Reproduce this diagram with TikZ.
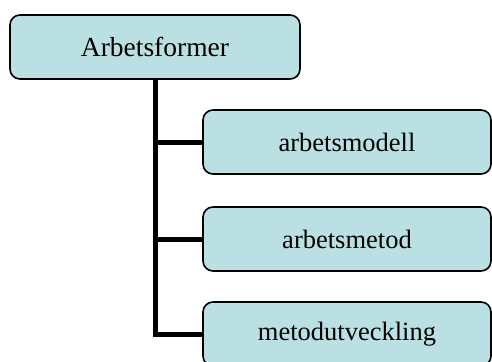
\documentclass[tikz,border=0pt]{standalone}
\usepackage{fontspec}
\setmainfont{Liberation Serif}
\definecolor{boxfill}{RGB}{187,224,227}
\begin{document}
\begin{tikzpicture}[x=1pt,y=1pt]
\tikzstyle{box}=[draw=black, line width=1.6pt, fill=boxfill, rounded corners=10pt, inner sep=0pt]
\tikzstyle{top box}=[box, minimum width=290pt, minimum height=64pt, font=\fontsize{27.5}{30}\selectfont]
\tikzstyle{sub box}=[box, minimum width=288pt, minimum height=64pt, font=\fontsize{26.5}{29}\selectfont]
\tikzstyle{link}=[line width=5pt]
\useasboundingbox (0,0) rectangle (492,-361);
\clip (0,0) rectangle (492,-361);

\node[top box] (forms) at (155,-47) {Arbetsformer};
\node[sub box] (model)  at (347,-142) {arbetsmodell};
\node[sub box] (method) at (347,-239) {arbetsmetod};
\node[sub box] (devel)  at (347,-334) {metodutveckling};

% spine from the top box, branches to each box
\draw[link] (forms.south) |- (devel.west);
\draw[link] (forms.south) |- (model.west);
\draw[link] (forms.south) |- (method.west);

\end{tikzpicture}
\end{document}
